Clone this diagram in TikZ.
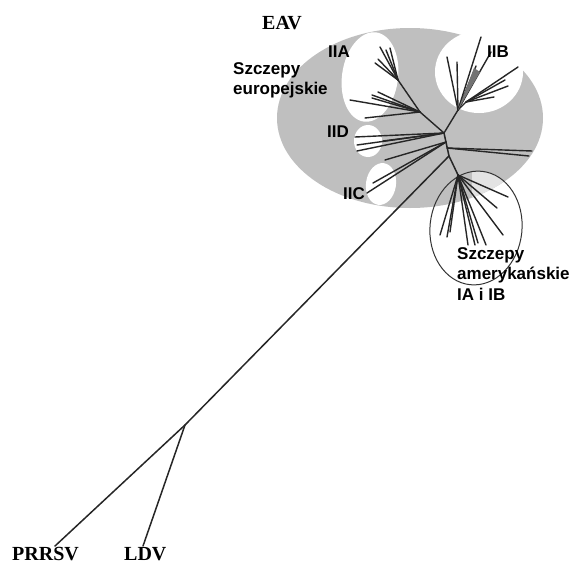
\documentclass[tikz,border=0pt]{standalone}
\usepackage{fontspec}
\setmainfont{Liberation Serif}
\setsansfont{Liberation Sans}
\begin{document}
\begin{tikzpicture}[x=1pt,y=-1pt,
  br/.style={line width=1.4pt,draw=black!85,line cap=round},
  lab/.style={font=\sffamily\bfseries\fontsize{17}{20}\selectfont,inner sep=0pt},
  strain/.style={font=\sffamily\bfseries\fontsize{17}{20.5}\selectfont,align=left,inner sep=0pt,anchor=north west},
  big/.style={font=\rmfamily\bfseries\fontsize{20}{24}\selectfont,inner sep=0pt,anchor=north west}]
\useasboundingbox (0,0) rectangle (573,565);
% regions
\fill[gray!50] (410,118) ellipse [x radius=133pt, y radius=90pt];
\fill[white, rotate around={-8:(370,77)}] (370,77) ellipse [x radius=28pt, y radius=45pt];
\fill[white] (479,72) ellipse [x radius=44pt, y radius=41pt];
\fill[white] (368,141) ellipse [x radius=14pt, y radius=16pt];
\fill[white, rotate around={-8:(381,184)}] (381,184) ellipse [x radius=15pt, y radius=21pt];
\begin{scope}
  \clip[rotate around={-6:(476,228)}] (476,228) ellipse [x radius=46pt, y radius=57pt];
  \clip (410,118) ellipse [x radius=133pt, y radius=90pt];
  \fill[gray!22] (472,160) rectangle (530,215);
\end{scope}
\draw[line width=1pt, black!80, rotate around={-6:(476,228)}] (476,228) ellipse [x radius=46pt, y radius=57pt];
% tree coordinates
\coordinate (prrsv) at (55,546);
\coordinate (ldv) at (143,546);
\coordinate (og) at (185,425);
\coordinate (rt) at (449,156);
\coordinate (cn) at (444,133);
\coordinate (am) at (458,175);
\coordinate (ib) at (458,110);
\coordinate (ib2) at (466,102);
\coordinate (ia) at (420,112);
\coordinate (ia2) at (398,80);
\coordinate (p1) at (446,142);
\coordinate (p2) at (447,148);
% backbone
\draw[br,line width=1.5pt] (prrsv) -- (og) -- (rt);
\draw[br,line width=1.5pt] (ldv) -- (og);
\draw[br,line width=1.5pt] (cn) -- (rt) -- (am);
\draw[br] (cn) -- (ib) -- (ib2);
\draw[br] (cn) -- (ia) -- (ia2);
% IIB
\foreach \n/\x/\y in {b1/481/37,b2/447/57,b3/457/62,b4/476/66,b8/491/52}{
  \coordinate (\n) at (\x,\y); \draw[br] (ib) -- (\n);}
\foreach \n/\x/\y in {b5/518/67,b6/508/86,b7/494/97,b9/505/80}{
  \coordinate (\n) at (\x,\y); \draw[br] (ib2) -- (\n);}
\fill[black!55] (ib) -- (474,68) -- (480,72) -- cycle;
% IIA
\foreach \n/\x/\y in {a1/380/47,a2/386/50,a3/390/48,a4/375/63,a5/378/59}{
  \coordinate (\n) at (\x,\y); \draw[br] (ia2) -- (\n);}
\foreach \n/\x/\y in {a6/350/100,a7/372/95,a8/378/92,a9/365/118,a10/372/98}{
  \coordinate (\n) at (\x,\y); \draw[br] (ia) -- (\n);}
% IID
\foreach \n/\x/\y in {d1/355/137,d2/357/145,d3/357/151,d4/383/141}{
  \coordinate (\n) at (\x,\y); \draw[br] (cn) -- (\n);}
% lower left and IIC
\foreach \n/\x/\y in {l1/385/160,c1/367/193,c2/373/183}{
  \coordinate (\n) at (\x,\y); \draw[br] (p1) -- (\n);}
% right branch
\foreach \n/\x/\y in {r1/532/151,r2/529/156}{
  \coordinate (\n) at (\x,\y); \draw[br] (p2) -- (\n);}
% American
\foreach \n/\x/\y in {m1/508/197,m2/503/235,m3/497/208,m4/440/235,m5/447/237,m6/450/232,m7/468/245,m8/475/245,m9/478/243,m10/486/245}{
  \coordinate (\n) at (\x,\y); \draw[br] (am) -- (\n);}
% labels
\node[big] (eav) at (262,16) {EAV};
\node[lab] (iia) at (339,52) {IIA};
\node[lab] (iib) at (498,52) {IIB};
\node[lab] (iid) at (338,132) {IID};
\node[lab] (iic) at (354,194) {IIC};
\node[strain] (eur) at (233,62) {Szczepy\\europejskie};
\node[strain] (ame) at (457,247) {Szczepy\\amerykańskie\\IA i IB};
\node[big] (prr) at (12,547) {PRRSV};
\node[big] (ldvl) at (124,547) {LDV};
\end{tikzpicture}
\end{document}
